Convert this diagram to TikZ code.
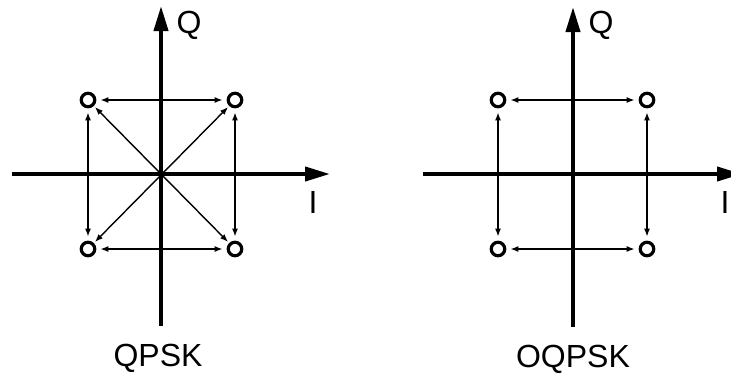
\documentclass[tikz,border=0pt]{standalone}
\usepackage{fontspec}
\setmainfont{Liberation Sans}
\usetikzlibrary{arrows.meta, positioning}

\begin{document}
\begin{tikzpicture}[x=1pt, y=-1pt,
    axis/.style={line width=4pt, -{Triangle[length=25pt, width=14pt]}},
    sym/.style={draw, circle, line width=3.2pt, minimum size=13.5pt, inner sep=0pt},
    link/.style={line width=1.4pt, {Latex[length=8pt, width=6pt]}-{Latex[length=8pt, width=6pt]},
                 shorten <=4pt, shorten >=4pt},
    diag/.style={link, shorten <=1.5pt, shorten >=1.5pt},
    lbl/.style={font=\fontsize{32}{38}\selectfont, inner sep=0pt},
    title/.style={font=\fontsize{32}{38}\selectfont, inner sep=0pt}
  ]
  \useasboundingbox (0,0) rectangle (731,376);
  \clip (0,0) rectangle (731,376);

  % QPSK
  \coordinate (o1) at (161,174);
  \draw[axis] (12,174) -- (330,174);
  \draw[axis] (161,326) -- (161,6);
  \node[lbl] (q1) at (189,25) {Q};
  \node[lbl] (i1) at (313,202) {I};
  \node[title] (t1) at (158,358) {QPSK};

  \node[sym] (a1) at (88,100) {};
  \node[sym] (b1) at (235,100) {};
  \node[sym] (c1) at (88,249) {};
  \node[sym] (d1) at (235,249) {};

  \draw[link] (a1) -- (b1);
  \draw[link] (c1) -- (d1);
  \draw[link] (a1) -- (c1);
  \draw[link] (b1) -- (d1);
  \draw[diag] (a1) -- (d1);
  \draw[diag] (b1) -- (c1);

  % OQPSK
  \coordinate (o2) at (573,174);
  \draw[axis] (423,174) -- (742,174);
  \draw[axis] (573,327) -- (573,7);
  \node[lbl] (q2) at (601,25) {Q};
  \node[lbl] (i2) at (725,202) {I};
  \node[title] (t2) at (573,359) {OQPSK};

  \node[sym] (a2) at (498,100) {};
  \node[sym] (b2) at (647,100) {};
  \node[sym] (c2) at (498,249) {};
  \node[sym] (d2) at (647,249) {};

  \draw[link] (a2) -- (b2);
  \draw[link] (c2) -- (d2);
  \draw[link] (a2) -- (c2);
  \draw[link] (b2) -- (d2);
\end{tikzpicture}
\end{document}
